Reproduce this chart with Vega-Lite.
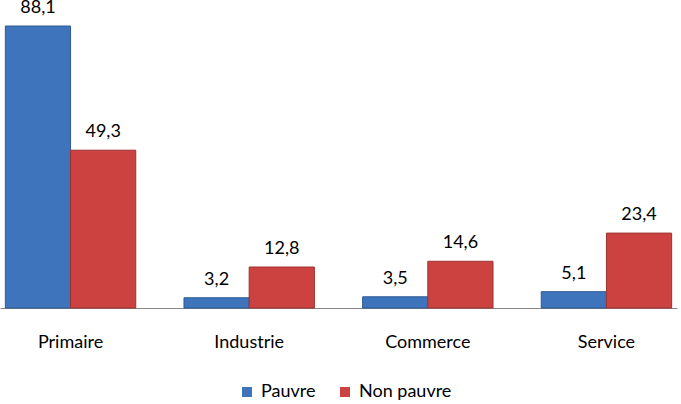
{
  "$schema": "https://vega.github.io/schema/vega-lite/v6.json",
  "width": 677,
  "height": 282,
  "autosize": {"type": "none"},
  "padding": {"top": 26, "left": 0, "right": 4, "bottom": 96},
  "background": "white",
  "config": {
    "view": {"stroke": null},
    "font": "Lato",
    "text": {"font": "Lato"}
  },
  "data": {
    "values": [
      {"secteur": "Primaire", "groupe": "Pauvre", "valeur": 88.1, "label": "88,1"},
      {"secteur": "Primaire", "groupe": "Non pauvre", "valeur": 49.3, "label": "49,3"},
      {"secteur": "Industrie", "groupe": "Pauvre", "valeur": 3.2, "label": "3,2"},
      {"secteur": "Industrie", "groupe": "Non pauvre", "valeur": 12.8, "label": "12,8"},
      {"secteur": "Commerce", "groupe": "Pauvre", "valeur": 3.5, "label": "3,5"},
      {"secteur": "Commerce", "groupe": "Non pauvre", "valeur": 14.6, "label": "14,6"},
      {"secteur": "Service", "groupe": "Pauvre", "valeur": 5.1, "label": "5,1"},
      {"secteur": "Service", "groupe": "Non pauvre", "valeur": 23.4, "label": "23,4"}
    ]
  },
  "encoding": {
    "x": {
      "field": "secteur",
      "type": "nominal",
      "sort": ["Primaire", "Industrie", "Commerce", "Service"],
      "scale": {"paddingInner": 0.27, "paddingOuter": 0.03},
      "axis": {
        "title": null,
        "labelAngle": 0,
        "ticks": false,
        "domainColor": "#868686",
        "labelFont": "Lato",
        "labelFontSize": 18,
        "labelColor": "#000000",
        "labelPadding": 25,
        "labelBaseline": "top"
      }
    },
    "xOffset": {
      "field": "groupe",
      "type": "nominal",
      "sort": ["Pauvre", "Non pauvre"],
      "scale": {"paddingInner": 0, "paddingOuter": 0}
    },
    "y": {
      "field": "valeur",
      "type": "quantitative",
      "scale": {"domain": [0, 88.1], "nice": false},
      "axis": null
    }
  },
  "layer": [
    {
      "mark": {"type": "bar", "strokeWidth": 1},
      "encoding": {
        "color": {
          "field": "groupe",
          "type": "nominal",
          "sort": ["Pauvre", "Non pauvre"],
          "scale": {"domain": ["Pauvre", "Non pauvre"], "range": ["#3e74bc", "#cc4240"]},
          "legend": {
            "title": null,
            "orient": "none",
            "legendX": 238,
            "legendY": 357,
            "direction": "horizontal",
            "symbolType": "square",
            "symbolSize": 100,
            "symbolStrokeWidth": 0,
            "labelFont": "Lato",
            "labelFontSize": 18,
            "labelColor": "#000000",
            "columnPadding": 20,
            "labelOffset": 5
          }
        },
        "stroke": {
          "field": "groupe",
          "type": "nominal",
          "scale": {"domain": ["Pauvre", "Non pauvre"], "range": ["#2d5a94", "#9c3230"]},
          "legend": null
        }
      }
    },
    {
      "mark": {"type": "text", "baseline": "alphabetic", "dy": -13, "fontSize": 18, "color": "#000000"},
      "encoding": {"text": {"field": "label"}}
    }
  ]
}
